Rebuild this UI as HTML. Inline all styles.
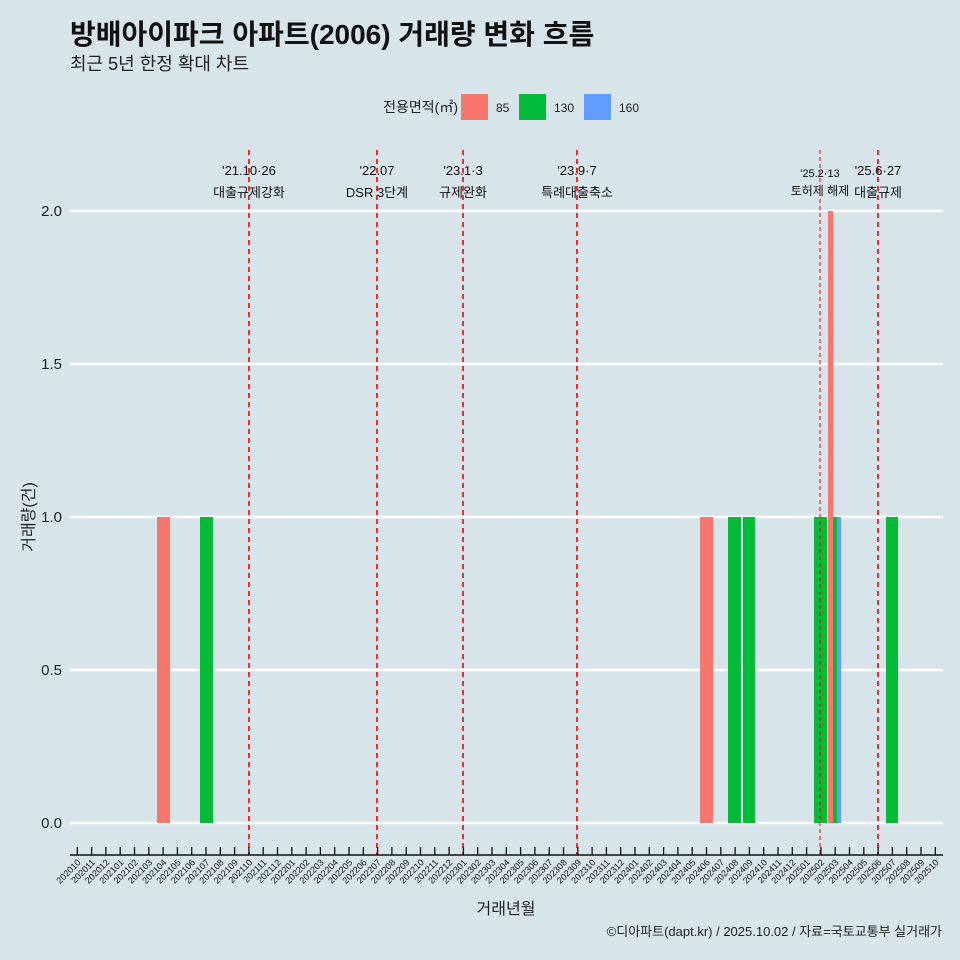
<!DOCTYPE html>
<html><head><meta charset="utf-8"><style>body{margin:0;background:#d7e4ea}svg{display:block}text{font-family:"Liberation Sans","Noto Sans CJK KR",sans-serif}</style></head><body>
<svg width="960" height="960" xmlns="http://www.w3.org/2000/svg">
<rect width="960" height="960" fill="#d7e4ea"/>
<text x="70" y="44" font-size="28" font-weight="bold" fill="#111">방배아이파크 아파트(2006) 거래량 변화 흐름</text>
<text x="70" y="70" font-size="18" fill="#222">최근 5년 한정 확대 차트</text>
<text x="458" y="112" font-size="14" text-anchor="end" fill="#222">전용면적(㎡)</text>
<rect x="461" y="94" width="27" height="26" fill="#f8766d"/>
<text x="496" y="112" font-size="12" fill="#222">85</text>
<rect x="519" y="94" width="27" height="26" fill="#00ba38"/>
<text x="554" y="112" font-size="12" fill="#222">130</text>
<rect x="584" y="94" width="27" height="26" fill="#619cff"/>
<text x="619" y="112" font-size="12" fill="#222">160</text>
<g stroke="#fff" stroke-width="2.5">
<line x1="70" x2="943" y1="211" y2="211"/><line x1="70" x2="943" y1="364" y2="364"/><line x1="70" x2="943" y1="517" y2="517"/><line x1="70" x2="943" y1="670" y2="670"/><line x1="70" x2="943" y1="823" y2="823"/>
</g>
<g font-size="15" fill="#222" text-anchor="end">
<text x="62" y="216">2.0</text><text x="62" y="369">1.5</text><text x="62" y="522">1.0</text><text x="62" y="675">0.5</text><text x="62" y="828">0.0</text>
</g>
<text transform="translate(34,517) rotate(-90)" font-size="16" text-anchor="middle" fill="#222">거래량(건)</text>
<g>
<rect x="157" y="517" width="13" height="306" fill="#f8766d"/>
<rect x="200" y="517" width="13" height="306" fill="#00ba38"/>
<rect x="700" y="517" width="13" height="306" fill="#f8766d"/>
<rect x="728" y="517" width="13" height="306" fill="#00ba38"/>
<rect x="743" y="517" width="12" height="306" fill="#00ba38"/>
<rect x="814" y="517" width="13" height="306" fill="#00ba38"/>
<rect x="828" y="211" width="5" height="612" fill="#f8766d"/>
<rect x="833" y="517" width="4" height="306" fill="#00ba38"/>
<rect x="837" y="517" width="4" height="306" fill="#619cff"/>
<rect x="886" y="517" width="12" height="306" fill="#00ba38"/>
</g>
<g stroke="#e00" stroke-width="1.6" stroke-dasharray="5,4">
<line x1="249" x2="249" y1="150" y2="855"/><line x1="377" x2="377" y1="150" y2="855"/><line x1="463" x2="463" y1="150" y2="855"/><line x1="577" x2="577" y1="150" y2="855"/><line x1="878" x2="878" y1="150" y2="855"/>
<line x1="820" x2="820" y1="150" y2="855" stroke-width="1" stroke-dasharray="4,3"/>
</g>
<g font-size="13" fill="#111" text-anchor="middle">
<text x="249" y="175">'21.10·26</text><text x="249" y="197">대출규제강화</text>
<text x="377" y="175">'22.07</text><text x="377" y="197">DSR 3단계</text>
<text x="463" y="175">'23.1·3</text><text x="463" y="197">규제완화</text>
<text x="577" y="175">'23.9·7</text><text x="577" y="197">특례대출축소</text>
<text x="820" y="177" font-size="11">'25.2·13</text><text x="820" y="195" font-size="12">토허제 해제</text>
<text x="878" y="175">'25.6·27</text><text x="878" y="197">대출규제</text>
</g>
<line x1="70" x2="943" y1="855" y2="855" stroke="#111" stroke-width="1.5"/>
<g id="ticks" stroke="#111" stroke-width="1.3"></g>
<g id="tl" font-size="9" fill="#111"></g>
<text x="506" y="914" font-size="16" text-anchor="middle" fill="#222">거래년월</text>
<text x="942" y="936" font-size="13" text-anchor="end" fill="#222">©디아파트(dapt.kr) / 2025.10.02 / 자료=국토교통부 실거래가</text>
<script>
var t=document.getElementById('ticks'),l=document.getElementById('tl'),ns='http://www.w3.org/2000/svg';
for(var i=0;i<61;i++){var x=77.3+14.3*i;var ln=document.createElementNS(ns,'line');ln.setAttribute('x1',x);ln.setAttribute('x2',x);ln.setAttribute('y1',847);ln.setAttribute('y2',855);t.appendChild(ln);
var m=10+i,y=2020+Math.floor((m-1)/12),mm=((m-1)%12)+1;var tx=document.createElementNS(ns,'text');tx.setAttribute('text-anchor','end');tx.setAttribute('transform','translate('+(x+4)+',863) rotate(-45)');tx.textContent=y+(mm<10?'0':'')+mm;l.appendChild(tx);}
</script>
</svg></body></html>
